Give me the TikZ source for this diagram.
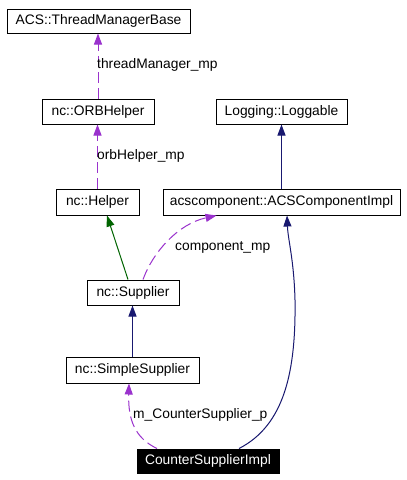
\documentclass[tikz,border=0pt]{standalone}
\usepackage{fontspec}
\setmainfont{Liberation Sans}
\usetikzlibrary{arrows.meta}
\definecolor{purp}{HTML}{9A32CD}
\definecolor{navy}{HTML}{191970}
\definecolor{dgreen}{HTML}{006400}
\tikzset{
  cls/.style={draw=black, line width=1pt, fill=white, inner sep=0pt, font=\fontsize{13.8}{15}\selectfont},
  lbl/.style={inner sep=0pt, anchor=west, font=\fontsize{13.8}{15}\selectfont},
  usage/.style={-{Triangle[length=11pt,width=8pt,fill=purp]}, draw=purp, line width=1pt, dash pattern=on 11pt off 5pt},
  inh/.style={-{Triangle[length=11pt,width=8pt,fill=navy]}, draw=navy, line width=1pt},
  inhg/.style={-{Triangle[length=11pt,width=8pt,fill=dgreen]}, draw=dgreen, line width=1pt},
}
\begin{document}
\begin{tikzpicture}[x=1pt,y=-1pt]
\useasboundingbox (0,0) rectangle (407,480);
\fill[white] (0,0) rectangle (407,480);
\node[cls, minimum width=183pt, minimum height=24pt] (tmb) at (98.5,21) {ACS::ThreadManagerBase};
\node[cls, minimum width=112pt, minimum height=25pt] (orb) at (98,111.5) {nc::ORBHelper};
\node[cls, minimum width=131pt, minimum height=25pt] (log) at (281.5,111.5) {Logging::Loggable};
\node[cls, minimum width=83pt, minimum height=26pt] (helper) at (97.5,202) {nc::Helper};
\node[cls, minimum width=237pt, minimum height=26pt] (acs) at (281.5,202) {acscomponent::ACSComponentImpl};
\node[cls, minimum width=92pt, minimum height=25pt] (sup) at (133,292.5) {nc::Supplier};
\node[cls, minimum width=133pt, minimum height=26pt] (simple) at (132.5,370) {nc::SimpleSupplier};
\node[cls, fill=black, text=white, minimum width=142pt, minimum height=24pt] (csi) at (208,461) {CounterSupplierImpl};

\draw[usage] (orb.north) -- (orb.north |- tmb.south);
\node[lbl] (l1) at (97,65) {threadManager\_mp};
\draw[usage] (helper.north) -- (helper.north |- orb.south);
\node[lbl] (l2) at (97,156) {orbHelper\_mp};
\draw[inh] (acs.north) -- (acs.north |- log.south);
\draw[inhg] ([xshift=-5pt]sup.north) -- ([xshift=9.5pt]helper.south);
\draw[usage] ([xshift=10pt]sup.north) .. controls (153,252) and (178,224) .. ([xshift=-65pt]acs.south);
\node[lbl] (l3) at (175,247) {component\_mp};
\draw[inh] (simple.north) -- (simple.north |- sup.south);
\draw[usage] ([xshift=-51pt]csi.north) .. controls (135,438) and (128,420) .. ([xshift=-3.5pt]simple.south);
\node[lbl] (l4) at (133,415) {m\_CounterSupplier\_p};
\draw[inh] ([xshift=31pt]csi.north) .. controls (285,425) and (296,370) .. (295,300) .. controls (294,260) and (288,240) .. ([xshift=5.5pt]acs.south);
\end{tikzpicture}
\end{document}
